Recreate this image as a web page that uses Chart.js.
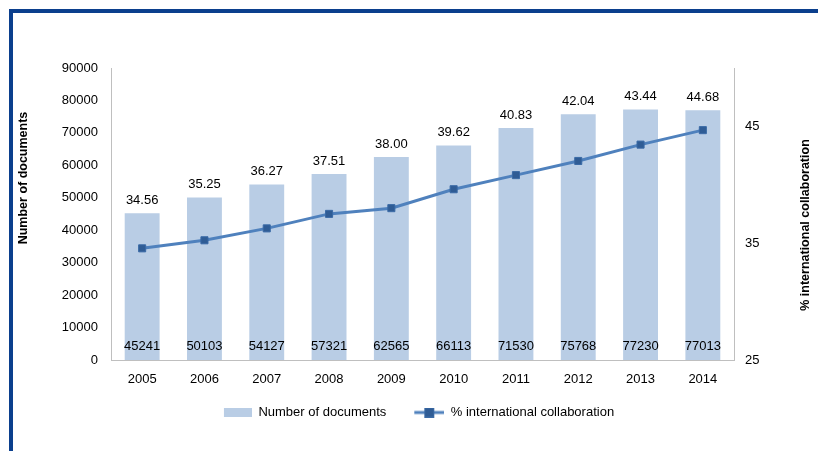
<!DOCTYPE html>
<html><head><meta charset="utf-8">
<script src="https://cdn.jsdelivr.net/npm/chart.js@4"></script>
<style>
html,body{margin:0;padding:0;background:#fff;width:818px;height:451px;overflow:hidden}
#frame{position:absolute;left:9px;top:9px;width:820px;height:450px;border-top:4px solid #0b3f8d;border-left:4px solid #0b3f8d}
#wrap{position:absolute;left:0;top:0;width:818px;height:451px}
</style></head><body>
<div id="frame"></div>
<div id="wrap"><canvas id="c" width="818" height="451"></canvas></div>
<script>
const years = ['2005','2006','2007','2008','2009','2010','2011','2012','2013','2014'];
const documents = [45241,50103,54127,57321,62565,66113,71530,75768,77230,77013];
const collaboration = [34.56,35.25,36.27,37.51,38.00,39.62,40.83,42.04,43.44,44.68];
const rightTicks = [25,35,45];

const FONT = "'Liberation Sans', Arial, sans-serif";
const BAR = '#b9cde5', LINE = '#4f81bd', MARK = '#2f5c95';
const ICON_W = 48;

function legendBarIcon(){
  const c = document.createElement('canvas'); c.width = ICON_W; c.height = 9;
  const x = c.getContext('2d'); x.fillStyle = BAR; x.fillRect(ICON_W-28,0,28,9); return c;
}
function legendLineIcon(){
  const c = document.createElement('canvas'); c.width = ICON_W; c.height = 10;
  const x = c.getContext('2d');
  const o = ICON_W - 30;
  x.strokeStyle = LINE; x.lineWidth = 3; x.beginPath(); x.moveTo(o,5); x.lineTo(o+30,5); x.stroke();
  x.fillStyle = MARK; x.fillRect(o+10,0,10,10);
  x.strokeStyle = '#3a6aa6'; x.lineWidth = 1; x.strokeRect(o+10.5,0.5,9,9);
  return c;
}

const labelPlugin = {
  id:'labels',
  afterDatasetsDraw(chart){
    const ctx = chart.ctx;
    const bars = chart.getDatasetMeta(1).data;
    ctx.save();
    ctx.font = '13px ' + FONT;
    ctx.fillStyle = '#000';
    ctx.textAlign = 'center';
    ctx.textBaseline = 'middle';
    bars.forEach((b,i)=>{
      ctx.fillText(String(documents[i]), b.x, b.base - 14);
      ctx.fillText(collaboration[i].toFixed(2), b.x, b.y - 13);
    });
    ctx.font = 'bold 12.5px ' + FONT;
    ctx.save();
    ctx.translate(24, 178);
    ctx.rotate(-Math.PI/2);
    ctx.fillText('Number of documents', 0, 0);
    ctx.restore();
    ctx.save();
    ctx.translate(806, 225);
    ctx.rotate(-Math.PI/2);
    ctx.fillText('% international collaboration', 0, 0);
    ctx.restore();
    ctx.restore();
  }
};

new Chart(document.getElementById('c'), {
  data:{
    labels: years,
    datasets:[
      {type:'line', label:'% international collaboration', data:collaboration, yAxisID:'y1',
       borderColor:LINE, borderWidth:3, backgroundColor:MARK,
       pointStyle:'rect', pointRadius:5, pointBorderColor:'#3a6aa6', pointBorderWidth:1,
       pointBackgroundColor:MARK, order:0, tension:0},
      {type:'bar', label:'Number of documents', data:documents, yAxisID:'y',
       backgroundColor:BAR, borderWidth:0, barPercentage:0.56, categoryPercentage:1, order:1}
    ]
  },
  options:{
    responsive:false, animation:false,
    layout:{padding:{left:0,right:0,top:68,bottom:22}},
    plugins:{
      legend:{position:'bottom',
        labels:{font:{family:FONT,size:13}, color:'#000', usePointStyle:true, pointStyleWidth:ICON_W, padding:10,
          generateLabels(chart){
            return [
              {text:'Number of documents', pointStyle:legendBarIcon(), fillStyle:BAR, strokeStyle:BAR, lineWidth:0, datasetIndex:1},
              {text:'% international collaboration', pointStyle:legendLineIcon(), fillStyle:MARK, strokeStyle:LINE, lineWidth:0, datasetIndex:0}
            ];
          }}},
      tooltip:{enabled:false}
    },
    scales:{
      x:{grid:{display:false, drawTicks:false}, border:{color:'#bfbfbf'},
         ticks:{font:{family:FONT,size:13}, color:'#000', padding:12},
         afterFit(s){s.height=36;}},
      y:{position:'left', min:0, max:90000, grid:{display:false, drawTicks:false},
         border:{color:'#bfbfbf'},
         ticks:{stepSize:10000, font:{family:FONT,size:13}, color:'#000', padding:13,
                callback:(v)=>String(v)},
         afterFit(s){s.width=111;}},
      y1:{position:'right', min:25, max:50, grid:{display:false, drawTicks:false},
         border:{color:'#bfbfbf'},
         ticks:{stepSize:10, font:{family:FONT,size:13}, color:'#000', padding:11,
                callback:(v)=>String(v)},
         afterBuildTicks(s){s.ticks = rightTicks.map(v=>({value:v}));},
         afterFit(s){s.width=84;}}
    }
  },
  plugins:[labelPlugin]
});
</script>
</body></html>
